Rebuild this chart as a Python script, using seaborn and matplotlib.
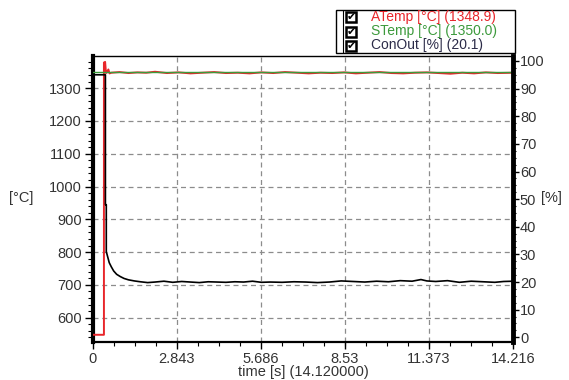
import matplotlib
matplotlib.use("Agg")
import matplotlib.pyplot as plt
import seaborn as sns
import pandas as pd
from matplotlib.ticker import AutoMinorLocator, FixedLocator
from matplotlib.patches import Rectangle

# ---- data ----
atemp_t = [0.0, 0.37, 0.37, 0.41, 0.44, 0.47, 0.52, 0.56, 0.62, 0.9, 1.2, 1.5, 1.8, 2.1,
           2.5, 2.9, 3.3, 3.7, 4.1, 4.5, 4.9, 5.3, 5.7, 6.1, 6.5, 6.9, 7.3, 7.7, 8.1,
           8.5, 8.9, 9.3, 9.7, 10.1, 10.5, 10.9, 11.3, 11.7, 12.1, 12.5, 12.9, 13.3,
           13.7, 14.216]
atemp_v = [548, 548, 1378, 1380, 1346, 1348, 1357, 1345, 1347, 1349, 1346, 1348, 1347, 1350,
           1346, 1348, 1345, 1347, 1349, 1346, 1347, 1345, 1348, 1346, 1349, 1347, 1345,
           1347, 1346, 1348, 1345, 1347, 1349, 1346, 1345, 1347, 1348, 1346, 1344, 1347,
           1345, 1348, 1346, 1347]
stemp_t = [0.0, 14.216]
stemp_v = [1350, 1350]
conout_t = [0.0, 0.02, 0.42, 0.42, 0.45, 0.45, 0.50, 0.55, 0.62, 0.70, 0.80, 0.92, 1.05,
            1.20, 1.40, 1.60, 1.85, 2.10, 2.40, 2.70, 3.00, 3.30, 3.60, 3.90, 4.20, 4.50,
            4.80, 5.10, 5.40, 5.70, 6.00, 6.40, 6.80, 7.20, 7.60, 8.00, 8.40, 8.80, 9.20,
            9.60, 10.00, 10.40, 10.80, 11.10, 11.30, 11.60, 12.00, 12.40, 12.80, 13.20,
            13.60, 13.90, 14.216]
conout_v = [48, 95, 95, 48, 48, 31, 29, 27, 25.5, 24, 22.8, 22, 21.3, 20.8, 20.4, 20.1,
            19.8, 20.0, 20.3, 19.9, 20.2, 20.0, 19.8, 20.1, 20.0, 19.9, 20.1, 20.0, 20.3,
            19.9, 20.0, 19.9, 20.1, 20.0, 19.8, 20.0, 20.4, 20.2, 20.0, 20.3, 20.1, 20.5,
            20.3, 20.9, 20.4, 20.2, 20.5, 19.9, 20.3, 20.1, 19.9, 20.2, 20.3]

x_ticks = [0, 2.843, 5.686, 8.53, 11.373, 14.216]
x_labels = ["0", "2.843", "5.686", "8.53", "11.373", "14.216"]
left_ticks = [600, 700, 800, 900, 1000, 1100, 1200, 1300]
right_ticks = [0, 10, 20, 30, 40, 50, 60, 70, 80, 90, 100]
legend_rows = [("ATemp [°C] (1348.9)", "#e8262b"),
               ("STemp [°C] (1350.0)", "#3c9a3c"),
               ("ConOut [%] (20.1)", "#2b2b48")]

sns.set_style("ticks")
plt.rcParams["font.family"] = ["Liberation Sans", "DejaVu Sans"]
plt.rcParams["font.size"] = 10.5

fig = plt.figure(figsize=(5.69, 3.80), dpi=100)
W, H = 569, 380
ax = fig.add_axes([93 / W, 1 - 342 / H, 420 / W, 286 / H])
ax2 = ax.twinx()

df_a = pd.DataFrame({"t": atemp_t, "v": atemp_v})
df_s = pd.DataFrame({"t": stemp_t, "v": stemp_v})
df_c = pd.DataFrame({"t": conout_t, "v": conout_v})

sns.lineplot(data=df_a, x="t", y="v", ax=ax, color="#e8262b", lw=1.4,
             estimator=None, sort=False, zorder=3)
sns.lineplot(data=df_s, x="t", y="v", ax=ax, color="#3c9a3c", lw=1.0,
             estimator=None, sort=False, zorder=4)
sns.lineplot(data=df_c, x="t", y="v", ax=ax2, color="black", lw=1.2,
             estimator=None, sort=False, zorder=3)

ax.set_xlim(0, 14.216)
ax.set_ylim(526, 1398)
ax2.set_ylim(-1.7, 101.8)

ax.xaxis.set_major_locator(FixedLocator(x_ticks))
ax.set_xticklabels(x_labels)
ax.xaxis.set_minor_locator(AutoMinorLocator(4))
ax.set_yticks(left_ticks)
ax.yaxis.set_minor_locator(AutoMinorLocator(5))
ax2.set_yticks(right_ticks)
ax2.yaxis.set_minor_locator(AutoMinorLocator(4))

ax.grid(True, which="major", color="#8c8c8c", ls=(0, (4, 3)), lw=0.9)
ax.set_axisbelow(True)

for a in (ax, ax2):
    a.set_xlabel("")
    a.set_ylabel("")
    for s in a.spines.values():
        s.set_color("black")
ax.spines["top"].set_linewidth(1.0)
ax.spines["bottom"].set_linewidth(1.6)
ax.spines["left"].set_linewidth(3.0)
ax2.spines["right"].set_linewidth(3.5)
ax2.spines["left"].set_visible(False)
ax2.spines["top"].set_visible(False)
ax2.spines["bottom"].set_visible(False)

tc = "#333333"
ax.tick_params(axis="x", which="major", length=5, width=1, pad=2, colors="black", labelcolor=tc)
ax.tick_params(axis="x", which="minor", length=3, width=0.8, colors="black")
ax.tick_params(axis="y", which="major", length=6, width=1, pad=2, colors="black", labelcolor=tc)
ax.tick_params(axis="y", which="minor", length=3.5, width=0.8, colors="black")
ax2.tick_params(axis="y", which="major", length=4, width=1, pad=1, colors="black", labelcolor=tc)
ax2.tick_params(axis="y", which="minor", length=2.5, width=0.8, colors="black")

fig.text(21 / W, 1 - 198 / H, "[°C]", ha="center", va="center", color=tc)
fig.text(541 / W, 1 - 198 / H, "[%]", ha="left", va="center", color=tc)
fig.text(303 / W, 1 - 372 / H, "time [s] (14.120000)", ha="center", va="center", color=tc)

# legend box with check marks
fig.patches.append(Rectangle((336 / W, 1 - 53 / H), 179 / W, 43 / H, transform=fig.transFigure,
                             fill=False, edgecolor="black", lw=1.0))
fig.lines.append(plt.Line2D([342.5 / W, 342.5 / W], [1 - 53 / H, 1 - 10 / H],
                            transform=fig.transFigure, color="black", lw=0.8))
row_y = [17.3, 31.5, 45.5]
for (label, col), yy in zip(legend_rows, row_y):
    fig.patches.append(Rectangle((346 / W, 1 - (yy + 5) / H), 10 / W, 10 / H,
                                 transform=fig.transFigure, fill=False,
                                 edgecolor="black", lw=1.8))
    fig.text(351 / W, 1 - yy / H, "✔", ha="center", va="center", fontsize=8,
             color="black", family=["DejaVu Sans"])
    fig.text(371 / W, 1 - yy / H, label, ha="left", va="center", color=col, fontsize=10)

fig.savefig("out.png", dpi=100)
